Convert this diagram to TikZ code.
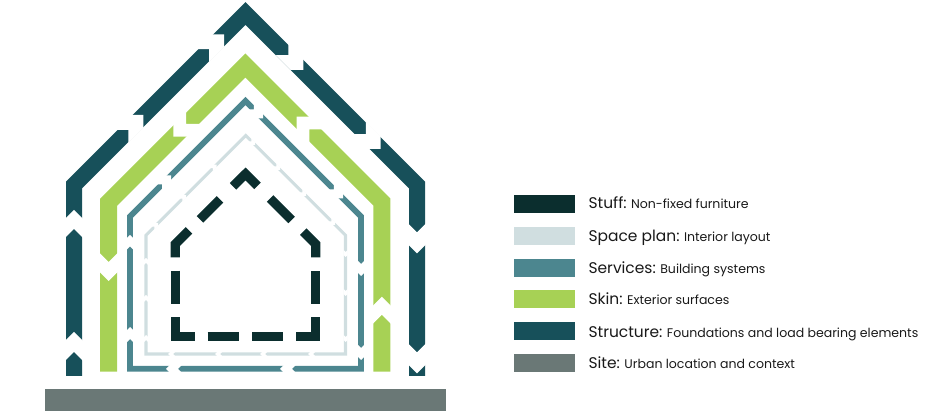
\documentclass[tikz,border=0pt]{standalone}
\usepackage{fontspec}
\setmainfont{Poppins}
\usetikzlibrary{positioning}
\definecolor{stuffcol}{HTML}{0B2E2E}
\definecolor{spacecol}{HTML}{D0DEE0}
\definecolor{servcol}{HTML}{4C868F}
\definecolor{skincol}{HTML}{A7D155}
\definecolor{structcol}{HTML}{17505A}
\definecolor{sitecol}{HTML}{6A7876}
% white chevron cut: tip, direction, half width, length
\newcommand{\gapcut}[4]{\fill[white, shift={(#1)}, rotate=#2]
    (0,0) -- (-#3,#3) -- (-#3-#4,#3) -- (-#4,0) -- (-#3-#4,-#3) -- (-#3,-#3) -- cycle;}
\newcommand{\leadword}[1]{{\fontsize{11.6}{13}\selectfont #1}}
\begin{document}
\begin{tikzpicture}[x=0.75pt, y=-0.75pt,
  structline/.style={draw=structcol, line width=12pt, miter limit=10},
  skinline/.style={draw=skincol, line width=12.75pt, miter limit=10},
  servline/.style={draw=servcol, line width=4.4pt, miter limit=10},
  spaceline/.style={draw=spacecol, line width=2.3pt, miter limit=10},
  stuffline/.style={draw=stuffcol, line width=6.9pt, miter limit=10},
  swatch/.style={rectangle, minimum width=46pt, minimum height=13.5pt, inner sep=0pt, anchor=west},
  legtext/.style={anchor=base west, inner sep=0pt, font=\fontsize{9.4}{11}\selectfont, text=black!90}
]
\useasboundingbox (0,0) rectangle (946,416);

%% site
\node[swatch, fill=sitecol, minimum width=300.9pt, minimum height=16.3pt] (sitebar) at (44.7,400.2) {};

%% structure
\draw[structline] (74,376) -- (74,185) -- (245.5,13.5) -- (417,185) -- (417,376);
\gapcut{74,210}{90}{9}{19}
\gapcut{74,332}{90}{9}{20}
\gapcut{143.3,115}{45}{9}{21}
\gapcut{224,34.3}{45}{9}{21}
\gapcut{303.3,70}{-45}{9}{21}
\gapcut{380.7,149}{-45}{9}{21}
\gapcut{417,253.3}{-90}{9}{21}
\gapcut{417,373.3}{-90}{9}{21}

%% skin
\draw[skinline] (108.7,371.7) -- (108.7,202.1) -- (245.3,65.5) -- (381.8,202) -- (381.8,371.7);
\gapcut{173.3,136.7}{225}{10}{18}
\gapcut{108.7,281}{-90}{10}{19}
\gapcut{296.7,116.7}{135}{10}{18}
\gapcut{381.8,296.7}{90}{10}{18}

%% services
\draw[servline] (130,368.8) -- (130,216.5) -- (245.5,101) -- (361,216.5) -- (361,368.8) -- cycle;
\gapcut{130,235}{90}{4}{11.5}
\gapcut{130,327}{90}{4}{12}
\gapcut{171,175.5}{45}{4}{12.7}
\gapcut{263,118.5}{-45}{4}{13}
\gapcut{343,198.5}{-45}{4}{13}
\gapcut{361,276}{-90}{4}{12}
\gapcut{361,360}{-90}{4}{12}
\gapcut{166,368.8}{180}{4}{12}
\gapcut{280,368.8}{180}{4}{12}

%% space plan
\draw[spaceline] (146,354) -- (146,235.2) -- (245.7,135.5) -- (345.5,235.2) -- (345.5,354) -- cycle;
\gapcut{146,258}{90}{2}{5}
\gapcut{146,295}{90}{2}{5}
\gapcut{146,335}{90}{2}{5}
\gapcut{168,354}{180}{2}{5}
\gapcut{215,354}{180}{2}{5}
\gapcut{260,354}{180}{2}{5}
\gapcut{308,354}{180}{2}{5}
\gapcut{345.5,257}{-90}{2}{5}
\gapcut{345.5,296}{-90}{2}{5}
\gapcut{345.5,342}{-90}{2}{5}
\gapcut{158,223.2}{45}{2}{5}
\gapcut{186,195.2}{45}{2}{5}
\gapcut{216.5,164.7}{45}{2}{5}
\gapcut{255,144.8}{-45}{2}{5}
\gapcut{280,169.8}{-45}{2}{5}
\gapcut{306,195.8}{-45}{2}{5}
\gapcut{335,224.8}{-45}{2}{5}

%% stuff
\draw[stuffline] (233,186.3) -- (245.5,174) -- (257.5,186);
\draw[stuffline] (220,199.3) -- (200,219.3);
\draw[stuffline] (189,230.3) -- (175.3,244) -- (175.3,257.3);
\draw[stuffline] (175.3,270.7) -- (175.3,304);
\draw[stuffline] (175.3,317.3) -- (175.3,336.3) -- (194.7,336.3);
\draw[stuffline] (207.7,336.3) -- (239.3,336.3);
\draw[stuffline] (252.3,336.3) -- (283.3,336.3);
\draw[stuffline] (296,336.3) -- (315.7,336.3) -- (315.7,317.3);
\draw[stuffline] (315.7,304) -- (315.7,270.7);
\draw[stuffline] (315.7,257.3) -- (315.7,244) -- (303.3,231.6);
\draw[stuffline] (291.5,220) -- (270,198.5);

%% legend
\node[swatch, fill=stuffcol]  (swstuff)  at (513.3,204.2) {};
\node[swatch, fill=spacecol]  (swspace)  at (513.3,236)   {};
\node[swatch, fill=servcol]   (swserv)   at (513.3,267.7) {};
\node[swatch, fill=skincol]   (swskin)   at (513.3,299.5) {};
\node[swatch, fill=structcol] (swstruct) at (513.3,331.3) {};
\node[swatch, fill=sitecol]   (swsite)   at (513.3,363.3) {};

\node[legtext] (txstuff)  at (588.3,209)   {\leadword{Stuff:} Non-fixed furniture};
\node[legtext] (txspace)  at (588.3,241.7) {\leadword{Space plan:} Interior layout};
\node[legtext] (txserv)   at (588.3,273.3) {\leadword{Services:} Building systems};
\node[legtext] (txskin)   at (588.3,305)   {\leadword{Skin:} Exterior surfaces};
\node[legtext] (txstruct) at (588.3,337.3) {\leadword{Structure:} Foundations and load bearing elements};
\node[legtext] (txsite)   at (588.3,369)   {\leadword{Site:} Urban location and context};

\end{tikzpicture}
\end{document}
